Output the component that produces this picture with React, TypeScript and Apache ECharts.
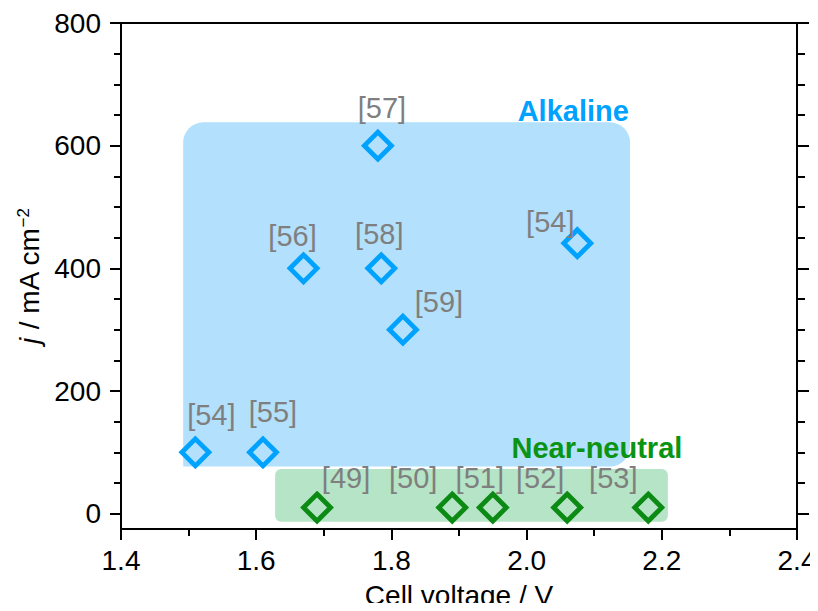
import React, { useEffect, useRef } from "react";
import * as echarts from "echarts";

// ---- data ----
const alkalineVoltage = [1.51, 1.61, 1.67, 1.78, 1.785, 1.817, 2.075];
const alkalineCurrent = [100, 100, 400, 600, 400, 300, 441];
const alkalineRefs = ["[54]", "[55]", "[56]", "[57]", "[58]", "[59]", "[54]"];

const neutralVoltage = [1.69, 1.89, 1.95, 2.06, 2.18];
const neutralCurrent = [10, 10, 10, 10, 10];
const neutralRefs = ["[49]", "[50]", "[51]", "[52]", "[53]"];

// regions: [xStart, xEnd, yStart, yEnd]
const regionAlkaline = [1.492, 2.153, 77, 638];
const regionNeutral = [1.628, 2.209, -13, 73];

const categoryNames = ["Alkaline", "Near-neutral"];
const categoryPos = [
  [2.069, 656],
  [2.104, 107],
];

const xTicks = [1.4, 1.6, 1.8, 2.0, 2.2, 2.4];
const yMajor = [0, 200, 400, 600, 800];
const yMinor = [50, 100, 150, 250, 300, 350, 450, 500, 550, 650, 700, 750];

// ---- layout / style (not data) ----
const alkalineLabelOffsets = [
  [16, -37],
  [10, -40],
  [-11, -32],
  [4, -38],
  [-2, -34],
  [36, -28],
  [-27, -21],
];
const neutralLabelOffsets = [
  [29, -30],
  [-39, -30],
  [-13, -30],
  [-27, -30],
  [-35, -30],
];

const BLUE = "#00a2ff";
const GREEN = "#0b8a14";
const GREEN_TEXT = "#0a9412";
const FONT = "'Liberation Sans', Arial, Helvetica, sans-serif";

export default function App() {
  const ref = useRef<HTMLDivElement>(null);

  useEffect(() => {
    if (!ref.current) return;
    const chart = echarts.init(ref.current, undefined, { renderer: "svg" });

    const yMin = -25;
    const yMax = 800;

    const axisLineStyle = { color: "#000", width: 2 };

    const regionFills = ["#b3e0fc", "#b6e4c6"];
    const regionRadii = [
      [20, 20, 20, 0],
      [6, 6, 6, 6],
    ];

    const option: any = {
      animation: false,
      grid: {
        left: 121,
        top: 23,
        right: 21,
        bottom: 82,
        containLabel: false,
        outerBoundsMode: "none",
      },
      xAxis: [
        {
          type: "value",
          position: "bottom",
          min: 1.4,
          max: 2.4,
          interval: 0.2,
          axisLine: { show: true, onZero: false, lineStyle: axisLineStyle },
          axisTick: { show: true, inside: false, length: 11, lineStyle: { width: 2, color: "#000" } },
          minorTick: { show: true, splitNumber: 2, length: 7, lineStyle: { width: 2, color: "#000" } },
          splitLine: { show: false },
          minorSplitLine: { show: false },
          axisLabel: {
            show: true,
            margin: 17,
            color: "#000",
            fontSize: 28,
            fontFamily: FONT,
            formatter: (v: number) => {
              const hit = xTicks.find((t) => Math.abs(t - v) < 1e-6);
              return hit !== undefined ? hit.toFixed(1) : "";
            },
          },
        },
        {
          type: "value",
          position: "top",
          min: 1.4,
          max: 2.4,
          axisLine: { show: true, onZero: false, lineStyle: axisLineStyle },
          axisTick: { show: false },
          axisLabel: { show: false },
          splitLine: { show: false },
        },
      ],
      yAxis: [
        {
          type: "value",
          position: "left",
          min: yMin,
          max: yMax,
          axisLine: { show: true, onZero: false, lineStyle: axisLineStyle },
          axisTick: {
            show: true,
            inside: false,
            length: 11,
            customValues: yMajor,
            lineStyle: { width: 2, color: "#000" },
          },
          axisLabel: {
            show: true,
            customValues: yMajor,
            margin: 20,
            color: "#000",
            fontSize: 28,
            fontFamily: FONT,
          },
          splitLine: { show: false },
        },
        {
          type: "value",
          position: "left",
          min: yMin,
          max: yMax,
          axisLine: { show: false, onZero: false },
          axisTick: {
            show: true,
            inside: false,
            length: 7,
            customValues: yMinor,
            lineStyle: { width: 2, color: "#000" },
          },
          axisLabel: { show: false },
          splitLine: { show: false },
        },
        {
          type: "value",
          position: "right",
          min: yMin,
          max: yMax,
          axisLine: { show: true, onZero: false, lineStyle: axisLineStyle },
          axisTick: {
            show: true,
            inside: false,
            length: 12,
            customValues: yMajor,
            lineStyle: { width: 2, color: "#000" },
          },
          axisLabel: { show: false },
          splitLine: { show: false },
        },
        {
          type: "value",
          position: "right",
          min: yMin,
          max: yMax,
          axisLine: { show: false, onZero: false },
          axisTick: {
            show: true,
            inside: false,
            length: 8,
            customValues: yMinor,
            lineStyle: { width: 2, color: "#000" },
          },
          axisLabel: { show: false },
          splitLine: { show: false },
        },
      ],
      graphic: [
        {
          type: "text",
          x: 459,
          y: 595,
          style: {
            text: "Cell voltage / V",
            align: "center",
            verticalAlign: "middle",
            fontSize: 28,
            fontFamily: FONT,
            fill: "#000",
          },
        },
        {
          type: "text",
          x: 29,
          y: 276,
          rotation: Math.PI / 2,
          style: {
            text: "{i|j} / mA cm{s|\u22122}",
            align: "center",
            verticalAlign: "middle",
            fontSize: 28,
            fontFamily: FONT,
            fill: "#000",
            rich: {
              i: { fontStyle: "italic", fontSize: 28, fontFamily: FONT, fill: "#000" },
              s: { fontSize: 17, fontFamily: FONT, verticalAlign: "top", fill: "#000", padding: [0, 0, 12, 0] },
            },
          },
        },
      ],
      series: [
        {
          type: "custom",
          xAxisIndex: 0,
          yAxisIndex: 0,
          z: 1,
          silent: true,
          encode: { x: [0, 1], y: [2, 3] },
          data: [regionAlkaline, regionNeutral],
          renderItem: (params: any, api: any) => {
            const tl = api.coord([api.value(0), api.value(3)]);
            const br = api.coord([api.value(1), api.value(2)]);
            return {
              type: "rect",
              shape: {
                x: tl[0],
                y: tl[1],
                width: br[0] - tl[0],
                height: br[1] - tl[1],
                r: regionRadii[params.dataIndex],
              },
              style: { fill: regionFills[params.dataIndex] },
            };
          },
        },
        {
          type: "scatter",
          xAxisIndex: 0,
          yAxisIndex: 0,
          z: 3,
          silent: true,
          symbol: "diamond",
          symbolSize: 27,
          itemStyle: { color: "rgba(0,0,0,0)", borderColor: BLUE, borderWidth: 4.8, opacity: 1 },
          emphasis: { disabled: true },
          data: alkalineVoltage.map((x, i) => ({
            value: [x, alkalineCurrent[i]],
            label: { offset: alkalineLabelOffsets[i] },
          })),
          label: {
            show: true,
            position: "inside",
            formatter: (p: any) => alkalineRefs[p.dataIndex],
            color: "#7f7f7f",
            fontSize: 29,
            fontFamily: FONT,
          },
        },
        {
          type: "scatter",
          xAxisIndex: 0,
          yAxisIndex: 0,
          z: 3,
          silent: true,
          symbol: "diamond",
          symbolSize: 27,
          itemStyle: { color: "rgba(0,0,0,0)", borderColor: GREEN, borderWidth: 4.8, opacity: 1 },
          emphasis: { disabled: true },
          data: neutralVoltage.map((x, i) => ({
            value: [x, neutralCurrent[i]],
            label: { offset: neutralLabelOffsets[i] },
          })),
          label: {
            show: true,
            position: "inside",
            formatter: (p: any) => neutralRefs[p.dataIndex],
            color: "#7f7f7f",
            fontSize: 29,
            fontFamily: FONT,
          },
        },
        {
          type: "scatter",
          xAxisIndex: 0,
          yAxisIndex: 0,
          z: 4,
          silent: true,
          symbolSize: 1,
          itemStyle: { color: "rgba(0,0,0,0)", opacity: 1 },
          emphasis: { disabled: true },
          data: categoryPos.map((p, i) => ({
            value: p,
            label: { color: i === 0 ? BLUE : GREEN_TEXT },
          })),
          label: {
            show: true,
            position: "inside",
            formatter: (p: any) => categoryNames[p.dataIndex],
            fontSize: 29,
            fontWeight: "bold",
            fontFamily: FONT,
          },
        },
      ],
    };

    chart.setOption(option);
    return () => chart.dispose();
  }, []);

  return <div ref={ref} style={{ width: 818, height: 611, margin: -8 }} />;
}
